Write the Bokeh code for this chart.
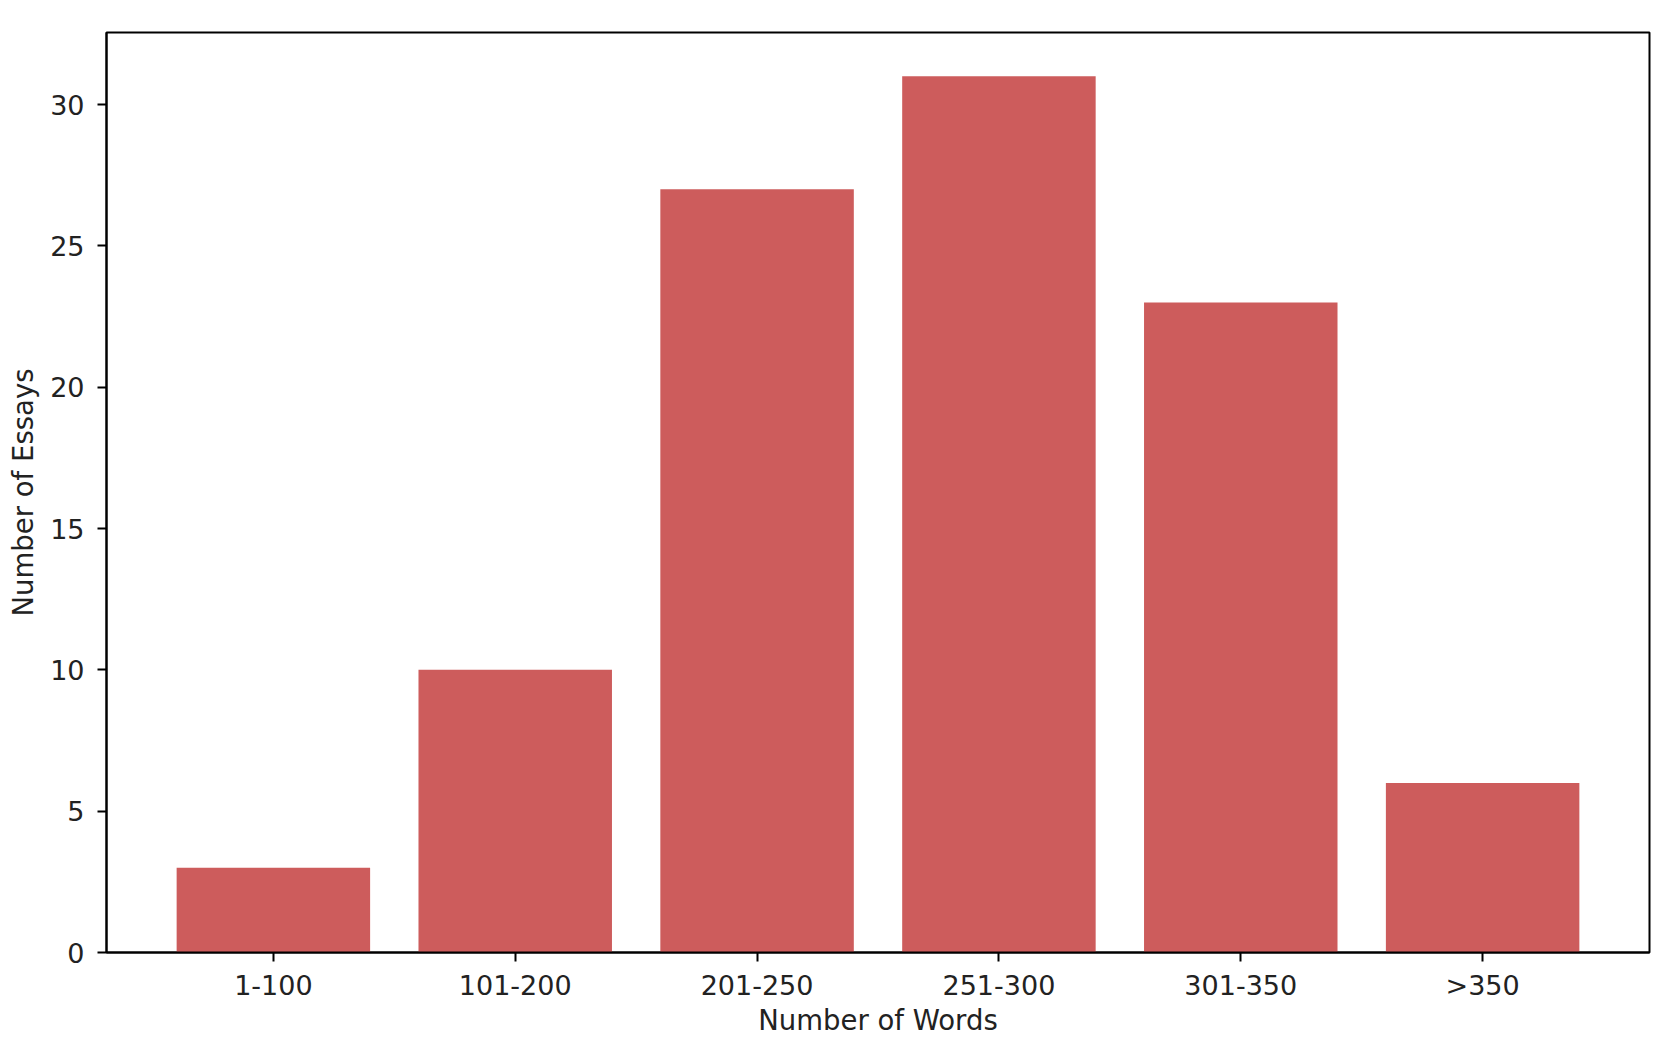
from bokeh.plotting import figure
from bokeh.models import ColumnDataSource, FixedTicker, Range1d
from bokeh.embed import file_html
from bokeh.resources import INLINE

categories = ["1-100", "101-200", "201-250", "251-300", "301-350", ">350"]
counts = [3, 10, 27, 31, 23, 6]
y_ticks = [0, 5, 10, 15, 20, 25, 30]

positions = list(range(len(categories)))
src = ColumnDataSource(dict(x=positions, top=counts, cat=categories))

p = figure(width=1655, height=1040, output_backend="svg", toolbar_location=None,
           x_range=Range1d(-0.69, len(categories) - 1 + 0.69),
           y_range=Range1d(0, max(counts) * 1.05),
           min_border_left=106, min_border_right=6, min_border_top=32, min_border_bottom=88)

p.vbar(x="x", top="top", width=0.8, bottom=0, source=src,
       fill_color="#CD5C5C", line_color=None)

p.xgrid.visible = False
p.ygrid.visible = False
p.outline_line_color = "black"
p.outline_line_width = 2
p.outline_line_alpha = 1

font = "DejaVu Sans"
for ax in (p.xaxis[0], p.yaxis[0]):
    ax.axis_line_color = "black"
    ax.axis_line_width = 2
    ax.major_tick_line_color = "black"
    ax.major_tick_line_width = 2
    ax.major_tick_out = 9
    ax.major_tick_in = 0
    ax.minor_tick_line_color = None
    ax.major_label_text_font = font
    ax.major_label_text_font_size = "27px"
    ax.major_label_text_color = "#222222"
    ax.axis_label_text_font = font
    ax.axis_label_text_font_size = "27.5px"
    ax.axis_label_text_font_style = "normal"
    ax.axis_label_text_color = "#222222"

p.xaxis[0].ticker = FixedTicker(ticks=positions)
p.xaxis[0].major_label_overrides = {i: c for i, c in zip(positions, categories)}
p.xaxis[0].axis_label = "Number of Words"
p.xaxis[0].major_label_standoff = 8
p.xaxis[0].axis_label_standoff = 0

p.yaxis[0].ticker = FixedTicker(ticks=y_ticks)
p.yaxis[0].axis_label = "Number of Essays"
p.yaxis[0].major_label_standoff = 13
p.yaxis[0].axis_label_standoff = 8

open("out.html", "w").write(file_html(p, INLINE))
